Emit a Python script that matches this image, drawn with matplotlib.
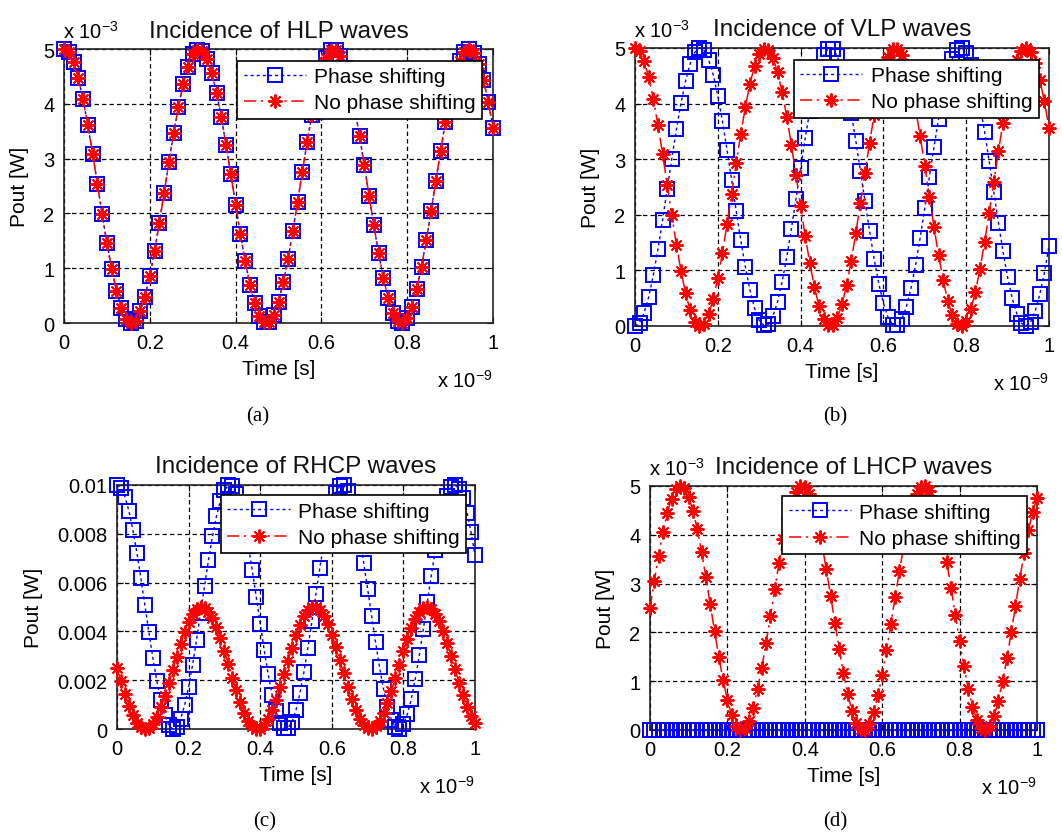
import matplotlib

matplotlib.use('Agg')
import matplotlib.pyplot as plt
import matplotlib.ticker as mticker
import numpy as np

# ── data (time in ns, power in units of 1e-3 W) ──────────────────────────────

t_ns = np.linspace(0, 1, 91)

# HLP: both cases coincide; also the "no phase shifting" curve for VLP
hlp_power = [
    5.00, 4.94, 4.76, 4.47, 4.08, 3.61, 3.09, 2.54, 1.99, 1.46,
    0.99, 0.59, 0.28, 0.08, 0.00, 0.04, 0.21, 0.48, 0.86, 1.31,
    1.83, 2.37, 2.93, 3.46, 3.94, 4.36, 4.68, 4.90, 4.99, 4.97,
    4.82, 4.56, 4.20, 3.76, 3.25, 2.71, 2.16, 1.62, 1.13, 0.70,
    0.36, 0.13, 0.01, 0.02, 0.15, 0.39, 0.74, 1.17, 1.67, 2.21,
    2.76, 3.30, 3.80, 4.24, 4.59, 4.84, 4.98, 4.99, 4.88, 4.65,
    4.32, 3.90, 3.41, 2.88, 2.32, 1.78, 1.27, 0.82, 0.45, 0.19,
    0.04, 0.00, 0.09, 0.30, 0.62, 1.03, 1.51, 2.04, 2.59, 3.14,
    3.66, 4.12, 4.50, 4.78, 4.95, 5.00, 4.93, 4.73, 4.43, 4.04,
    3.56,
]

vlp_phase = [
    0.00, 0.06, 0.24, 0.53, 0.92, 1.39, 1.91, 2.46, 3.01, 3.54,
    4.01, 4.41, 4.72, 4.92, 5.00, 4.96, 4.79, 4.52, 4.14, 3.69,
    3.17, 2.63, 2.07, 1.54, 1.06, 0.64, 0.32, 0.10, 0.01, 0.03,
    0.18, 0.44, 0.80, 1.24, 1.75, 2.29, 2.84, 3.38, 3.87, 4.30,
    4.64, 4.87, 4.99, 4.98, 4.85, 4.61, 4.26, 3.83, 3.33, 2.79,
    2.24, 1.70, 1.20, 0.76, 0.41, 0.16, 0.02, 0.01, 0.12, 0.35,
    0.68, 1.10, 1.59, 2.12, 2.68, 3.22, 3.73, 4.18, 4.55, 4.81,
    4.96, 5.00, 4.91, 4.70, 4.38, 3.97, 3.49, 2.96, 2.41, 1.86,
    1.34, 0.88, 0.50, 0.22, 0.05, 0.00, 0.07, 0.27, 0.57, 0.96,
    1.44,
]

rhcp_phase = [
    10.00, 9.88, 9.52, 8.93, 8.15, 7.22, 6.18, 5.08, 3.98, 2.93,
    1.98, 1.18, 0.56, 0.16, 0.00, 0.09, 0.42, 0.97, 1.72, 2.63,
    3.66, 4.75, 5.85, 6.92, 7.89, 8.72, 9.36, 9.79, 9.98, 9.94,
    9.65, 9.13, 8.41, 7.52, 6.51, 5.42, 4.31, 3.24, 2.25, 1.40,
    0.72, 0.26, 0.03, 0.04, 0.29, 0.78, 1.47, 2.34, 3.34, 4.42,
    5.52, 6.61, 7.61, 8.48, 9.19, 9.69, 9.96, 9.98, 9.76, 9.31,
    8.65, 7.80, 6.82, 5.75, 4.64, 3.56, 2.54, 1.64, 0.91, 0.37,
    0.07, 0.01, 0.19, 0.61, 1.24, 2.06, 3.02, 4.08, 5.19, 6.28,
    7.32, 8.23, 9.00, 9.56, 9.90, 10.00, 9.85, 9.47, 8.87, 8.07,
    7.13,
]

rhcp_nophase = [
    2.50, 1.95, 1.43, 0.95, 0.56, 0.26, 0.07, 0.00, 0.05, 0.22,
    0.51, 0.89, 1.35, 1.87, 2.42, 2.97, 3.50, 3.98, 4.39, 4.70,
    4.91, 5.00, 4.96, 4.81, 4.54, 4.17, 3.72, 3.21, 2.67, 2.11,
    1.58, 1.09, 0.67, 0.34, 0.12, 0.01, 0.02, 0.16, 0.41, 0.77,
    1.20, 1.71, 2.25, 2.80, 3.34, 3.84, 4.27, 4.62, 4.86, 4.98,
    4.99, 4.87, 4.63, 4.29, 3.87, 3.37, 2.83, 2.28, 1.74, 1.23,
    0.79, 0.43, 0.17, 0.03, 0.01, 0.11, 0.32, 0.65, 1.06, 1.55,
    2.08, 2.64, 3.18, 3.69, 4.15, 4.52, 4.80, 4.96, 5.00, 4.92,
    4.72, 4.41, 4.00, 3.53, 3.00, 2.45, 1.90, 1.38, 0.91, 0.53,
    0.24,
]

lhcp_phase = [0.0] * 91

lhcp_nophase = [
    2.50, 3.05, 3.57, 4.05, 4.44, 4.74, 4.93, 5.00, 4.95, 4.78,
    4.49, 4.11, 3.65, 3.13, 2.58, 2.03, 1.50, 1.02, 0.61, 0.30,
    0.09, 0.00, 0.04, 0.19, 0.46, 0.83, 1.28, 1.79, 2.33, 2.89,
    3.42, 3.91, 4.33, 4.66, 4.88, 4.99, 4.98, 4.84, 4.59, 4.23,
    3.80, 3.29, 2.75, 2.20, 1.66, 1.16, 0.73, 0.38, 0.14, 0.02,
    0.01, 0.13, 0.37, 0.71, 1.13, 1.63, 2.17, 2.72, 3.26, 3.77,
    4.21, 4.57, 4.83, 4.97, 4.99, 4.89, 4.68, 4.35, 3.94, 3.45,
    2.92, 2.36, 1.82, 1.31, 0.85, 0.48, 0.20, 0.04, 0.00, 0.08,
    0.28, 0.59, 1.00, 1.47, 2.00, 2.55, 3.10, 3.62, 4.09, 4.47,
    4.76,
]

x_ticks = [0, 0.2, 0.4, 0.6, 0.8, 1]

panels = [
    # (title, phase series, no-phase series, y max, y ticks, caption, scaled y?)
    ('Incidence of HLP waves', hlp_power, hlp_power, 5, [0, 1, 2, 3, 4, 5], '(a)', True),
    ('Incidence of VLP waves', vlp_phase, hlp_power, 5, [0, 1, 2, 3, 4, 5], '(b)', True),
    ('Incidence of RHCP waves', rhcp_phase, rhcp_nophase, 10, [0, 2, 4, 6, 8, 10], '(c)', False),
    ('Incidence of LHCP waves', lhcp_phase, lhcp_nophase, 5, [0, 1, 2, 3, 4, 5], '(d)', True),
]

# axes rectangles in figure pixels: left, top, right, bottom
W, H = 1062, 837
rects = [
    (64, 50, 493, 324),
    (635, 49, 1049, 327),
    (117, 486, 475, 730),
    (650, 487, 1037, 731),
]
captions_xy = [(258, 417), (835, 417), (265, 822), (835, 822)]
title_shift = [0, 0, 0, 0.025]

plt.rcParams.update({
    'font.family': ['Liberation Sans', 'DejaVu Sans'],
    'mathtext.default': 'regular',
    'axes.linewidth': 1.2,
    'axes.edgecolor': '#222222',
})

_BLUE = '#0000ff'
_RED = '#ff0000'
_TICK_FS = 14.5

fig = plt.figure(figsize=(W / 100, H / 100), dpi=100)
fig.patch.set_facecolor('white')

for (title, ph, noph, ymax, yt, cap, scaled), (l, t, r, b), (cx, cy), dx in zip(
        panels, rects, captions_xy, title_shift):
    ax = fig.add_axes([l / W, 1 - b / H, (r - l) / W, (b - t) / H])
    ax.plot(t_ns, ph, color=_BLUE, linestyle=(0, (2.2, 2.2)), linewidth=1.0,
            marker='s', markersize=9.5, markerfacecolor='none', markeredgewidth=1.4,
            markeredgecolor=_BLUE, clip_on=False, label='Phase shifting', zorder=3)
    ax.plot(t_ns, noph, color=_RED, linestyle=(0, (8, 3, 1.5, 3)), linewidth=1.1,
            marker=(8, 2, 0), markersize=10, markeredgewidth=1.4,
            markeredgecolor=_RED, clip_on=False, label='No phase shifting', zorder=4)

    ax.set_xlim(0, 1)
    ax.set_ylim(0, ymax)
    ax.set_xticks(x_ticks)
    ax.set_yticks(yt)
    ax.xaxis.set_major_formatter(mticker.FuncFormatter(lambda v, _: f'{v:g}'))
    if scaled:
        ax.yaxis.set_major_formatter(mticker.FuncFormatter(lambda v, _: f'{v:g}'))
    else:
        ax.yaxis.set_major_formatter(mticker.FuncFormatter(lambda v, _: f'{v * 1e-3:g}'))
    ax.tick_params(direction='in', length=4, width=0.8, labelsize=_TICK_FS,
                   top=True, right=True, pad=7)
    ax.grid(True, color='black', linestyle=(0, (3.5, 2.5)), linewidth=0.9)
    ax.set_axisbelow(True)

    ax.set_title(title, fontsize=17.5, pad=9, color='#111111', x=0.5 + dx)
    ax.set_xlabel('Time [s]', fontsize=15, labelpad=5)
    ax.set_ylabel('Pout [W]', fontsize=15, labelpad=10)

    if scaled:
        ax.annotate('x 10$^{-3}$', xy=(0, 1), xycoords='axes fraction',
                    xytext=(-1, 8), textcoords='offset points',
                    ha='left', va='baseline', fontsize=_TICK_FS)
    ax.annotate('x 10$^{-9}$', xy=(1, 0), xycoords='axes fraction',
                xytext=(0, -46), textcoords='offset points',
                ha='right', va='baseline', fontsize=_TICK_FS)

    leg = ax.legend(loc='upper right', bbox_to_anchor=(0.975, 0.957), fontsize=15,
                    numpoints=1, handlelength=3.0, handletextpad=0.4,
                    labelspacing=0.35, borderpad=0.3, borderaxespad=0,
                    fancybox=False, framealpha=1, edgecolor='black')
    leg.get_frame().set_linewidth(1.2)

    fig.text(cx / W, 1 - cy / H, cap, ha='center', va='center', fontsize=15,
             family=['Liberation Serif', 'DejaVu Serif'])

fig.savefig('out.png', dpi=100, facecolor='white')
